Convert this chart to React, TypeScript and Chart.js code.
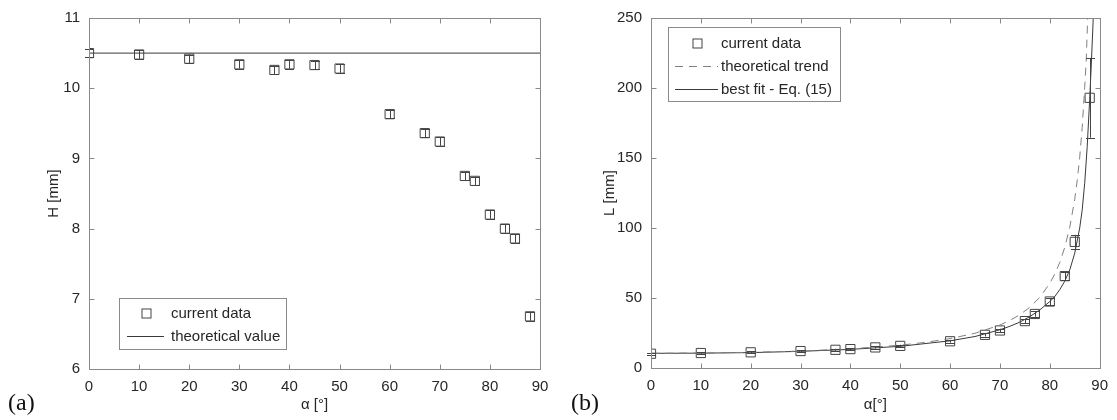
import React, { useEffect, useRef } from 'react';
import { Chart, registerables } from 'chart.js';
Chart.register(...registerables);

// ---------- data ----------
const alpha = [0, 10, 20, 30, 37, 40, 45, 50, 60, 67, 70, 75, 77, 80, 83, 85, 88];
const heightH = [10.5, 10.48, 10.42, 10.34, 10.26, 10.34, 10.33, 10.28, 9.63, 9.36, 9.24, 8.75, 8.68, 8.2, 8.0, 7.86, 6.75];
const heightErr = [0.06, 0.06, 0.06, 0.06, 0.06, 0.06, 0.06, 0.06, 0.06, 0.06, 0.06, 0.06, 0.06, 0.06, 0.06, 0.06, 0.06];
const theoryAlpha = [0, 90];
const theoryH = [10.5, 10.5];

const lengthL = [10.2, 10.7, 11.2, 12.1, 13.0, 13.5, 14.7, 15.8, 19.1, 23.7, 26.8, 33.5, 38.6, 47.5, 65.6, 90.1, 193];
const lengthErr = [0.6, 0.6, 0.6, 0.7, 0.7, 0.7, 0.8, 0.8, 1.0, 1.2, 1.3, 1.5, 2.0, 2.5, 3.0, 5.0, 28.5];

const trendAlpha = [0, 10, 20, 30, 40, 50, 55, 60, 65, 70, 72, 74, 76, 78, 80, 81, 82, 83, 84, 85, 85.5, 86, 86.5, 87, 87.3, 87.6];
const trendL = [10.5, 10.7, 11.2, 12.1, 13.7, 16.3, 18.3, 21.0, 24.8, 30.7, 34.0, 38.1, 43.4, 50.5, 60.5, 67.1, 75.4, 86.2, 100.5, 120.5, 134, 150.5, 172, 200.6, 219, 250.5];

const fitAlpha = [0, 10, 20, 30, 40, 50, 60, 65, 70, 72, 74, 76, 78, 80, 81, 82, 83, 84, 85, 86, 86.5, 87, 87.5, 88, 88.3, 88.6, 88.8];
const fitL = [10.5, 10.6, 11.0, 11.9, 13.3, 15.5, 19.4, 22.5, 27.3, 29.8, 32.8, 36.7, 41.5, 47.5, 51, 56, 62, 70, 82, 100, 113, 132, 158, 192, 215, 240, 258];

const xTicks = [0, 10, 20, 30, 40, 50, 60, 70, 80, 90];

// ---------- styles ----------
const FONT = "'Liberation Sans', Arial, sans-serif";
const TEXT = '#262626';
const AXIS = '#8a8a8a';
const MARK = '#444444';

const pts = (xs: number[], ys: number[]) => xs.map((x, i) => ({ x, y: ys[i] }));

type LegendEntry = { kind: 'marker' | 'line' | 'dash'; label: string };

function makePlugin(opts: {
  errX: number[]; errY: number[]; err: number[];
  legendBox: [number, number, number, number];
  legend: LegendEntry[]; rowY: number[]; sampleX: [number, number]; textX: number;
  panel: string; panelX: number;
}) {
  return {
    id: 'decor',
    afterDatasetsDraw(chart: any) {
      const { ctx, scales } = chart;
      const xs = scales.x, ys = scales.y;
      ctx.save();
      ctx.strokeStyle = MARK;
      ctx.lineWidth = 1;
      opts.errX.forEach((a, i) => {
        const px = Math.round(xs.getPixelForValue(a)) + 0.5;
        const y1 = ys.getPixelForValue(opts.errY[i] - opts.err[i]);
        const y2 = ys.getPixelForValue(opts.errY[i] + opts.err[i]);
        ctx.beginPath();
        ctx.moveTo(px, y1); ctx.lineTo(px, y2);
        ctx.moveTo(px - 4.5, Math.round(y1) + 0.5); ctx.lineTo(px + 4.5, Math.round(y1) + 0.5);
        ctx.moveTo(px - 4.5, Math.round(y2) + 0.5); ctx.lineTo(px + 4.5, Math.round(y2) + 0.5);
        ctx.stroke();
      });
      ctx.restore();
    },
    afterDraw(chart: any) {
      const { ctx, chartArea: ca, scales } = chart;
      ctx.save();
      // frame
      ctx.strokeStyle = AXIS;
      ctx.lineWidth = 1;
      const L = Math.round(ca.left) + 0.5, R = Math.round(ca.right) + 0.5;
      const T = Math.round(ca.top) + 0.5, B = Math.round(ca.bottom) + 0.5;
      ctx.strokeRect(L, T, R - L, B - T);
      ctx.beginPath();
      scales.x.ticks.forEach((t: any) => {
        const px = Math.round(scales.x.getPixelForValue(t.value)) + 0.5;
        ctx.moveTo(px, B); ctx.lineTo(px, B - 5);
        ctx.moveTo(px, T); ctx.lineTo(px, T + 5);
      });
      scales.y.ticks.forEach((t: any) => {
        const py = Math.round(scales.y.getPixelForValue(t.value)) + 0.5;
        ctx.moveTo(L, py); ctx.lineTo(L + 5, py);
        ctx.moveTo(R, py); ctx.lineTo(R - 5, py);
      });
      ctx.stroke();
      // legend
      const [bx1, by1, bx2, by2] = opts.legendBox;
      ctx.fillStyle = '#ffffff';
      ctx.fillRect(bx1, by1, bx2 - bx1, by2 - by1);
      ctx.strokeStyle = AXIS;
      ctx.strokeRect(bx1 + 0.5, by1 + 0.5, bx2 - bx1, by2 - by1);
      ctx.font = `15px ${FONT}`;
      ctx.textBaseline = 'middle';
      ctx.textAlign = 'left';
      opts.legend.forEach((e, i) => {
        const y = opts.rowY[i];
        const [sx1, sx2] = opts.sampleX;
        if (e.kind === 'marker') {
          ctx.strokeStyle = MARK;
          ctx.setLineDash([]);
          const cx = Math.round((sx1 + sx2) / 2) + 0.5;
          ctx.strokeRect(cx - 4.5, y - 4.5 + 0.5, 9, 9);
        } else {
          ctx.strokeStyle = e.kind === 'dash' ? '#808080' : '#3a3a3a';
          ctx.setLineDash(e.kind === 'dash' ? [8, 6] : []);
          ctx.beginPath();
          ctx.moveTo(sx1, y + 0.5); ctx.lineTo(sx2, y + 0.5);
          ctx.stroke();
          ctx.setLineDash([]);
        }
        ctx.fillStyle = TEXT;
        ctx.fillText(e.label, opts.textX, y + 1);
      });
      // panel label
      ctx.font = `24px 'Liberation Serif', 'Times New Roman', serif`;
      ctx.textBaseline = 'alphabetic';
      ctx.fillStyle = '#111';
      ctx.fillText(opts.panel, opts.panelX, 410);
      ctx.restore();
    },
  };
}

function axisCommon(min: number, max: number, step: number, title: string, isX: boolean, titlePad: number, size: number) {
  return {
    type: 'linear',
    min, max,
    afterFit: (s: any) => { if (isX) s.height = size; else s.width = size; },
    afterBuildTicks: isX ? (s: any) => { s.ticks = xTicks.map((v) => ({ value: v })); } : undefined,
    ticks: { stepSize: step, color: TEXT, font: { size: 15, family: FONT }, padding: 9, maxRotation: 0, autoSkip: false },
    grid: { display: false, drawTicks: false },
    border: { display: false },
    title: {
      display: true, text: title, color: TEXT, font: { size: 15, family: FONT },
      padding: isX ? { top: 0, bottom: titlePad } : { top: titlePad, bottom: 0 },
    },
  };
}

function PanelA() {
  const ref = useRef<HTMLCanvasElement>(null);
  useEffect(() => {
    const chart = new Chart(ref.current!, {
      type: 'scatter',
      data: {
        datasets: [
          {
            label: 'theoretical value', data: pts(theoryAlpha, theoryH), showLine: true,
            borderColor: '#3a3a3a', borderWidth: 1, pointRadius: 0,
          },
          {
            label: 'current data', data: pts(alpha, heightH), showLine: false,
            pointStyle: 'rect', pointRadius: 6.5, pointBorderWidth: 1,
            borderColor: MARK, backgroundColor: 'rgba(0,0,0,0)',
          },
        ],
      } as any,
      options: {
        animation: false, responsive: false,
        layout: { padding: { left: 0, right: 20, top: 15, bottom: 0 } },
        plugins: { legend: { display: false }, tooltip: { enabled: false } },
        scales: {
          x: axisCommon(0, 90, 10, 'α [°]', true, 6, 51),
          y: axisCommon(6, 11, 1, 'H [mm]', false, 45, 89),
        } as any,
      },
      plugins: [makePlugin({
        errX: alpha, errY: heightH, err: heightErr,
        legendBox: [119, 298, 286, 349],
        legend: [{ kind: 'marker', label: 'current data' }, { kind: 'line', label: 'theoretical value' }],
        rowY: [313, 336], sampleX: [127, 164], textX: 171,
        panel: '(a)', panelX: 8,
      })],
    });
    return () => chart.destroy();
  }, []);
  return <canvas ref={ref} width={560} height={420} style={{ position: 'absolute', left: 0, top: 0 }} />;
}

function PanelB() {
  const ref = useRef<HTMLCanvasElement>(null);
  useEffect(() => {
    const chart = new Chart(ref.current!, {
      type: 'scatter',
      data: {
        datasets: [
          {
            label: 'theoretical trend', data: pts(trendAlpha, trendL), showLine: true,
            borderColor: '#808080', borderWidth: 1, borderDash: [8, 6], pointRadius: 0,
          },
          {
            label: 'best fit - Eq. (15)', data: pts(fitAlpha, fitL), showLine: true,
            borderColor: '#3a3a3a', borderWidth: 1, pointRadius: 0,
          },
          {
            label: 'current data', data: pts(alpha, lengthL), showLine: false,
            pointStyle: 'rect', pointRadius: 6.5, pointBorderWidth: 1,
            borderColor: MARK, backgroundColor: 'rgba(0,0,0,0)',
          },
        ],
      } as any,
      options: {
        animation: false, responsive: false,
        layout: { padding: { left: 0, right: 12, top: 11, bottom: 0 } },
        plugins: { legend: { display: false }, tooltip: { enabled: false } },
        scales: {
          x: axisCommon(0, 90, 10, 'α[°]', true, 6, 52),
          y: axisCommon(0, 250, 50, 'L [mm]', false, 41, 91),
        } as any,
      },
      plugins: [makePlugin({
        errX: alpha, errY: lengthL, err: lengthErr,
        legendBox: [108, 27, 280, 101],
        legend: [
          { kind: 'marker', label: 'current data' },
          { kind: 'dash', label: 'theoretical trend' },
          { kind: 'line', label: 'best fit - Eq. (15)' },
        ],
        rowY: [43, 66, 89], sampleX: [115, 158], textX: 161,
        panel: '(b)', panelX: 11,
      })],
    });
    return () => chart.destroy();
  }, []);
  return <canvas ref={ref} width={557} height={420} style={{ position: 'absolute', left: 560, top: 0 }} />;
}

export default function App() {
  return (
    <div style={{ position: 'fixed', left: 0, top: 0, width: 1117, height: 420, background: '#fff' }}>
      <PanelA />
      <PanelB />
    </div>
  );
}
